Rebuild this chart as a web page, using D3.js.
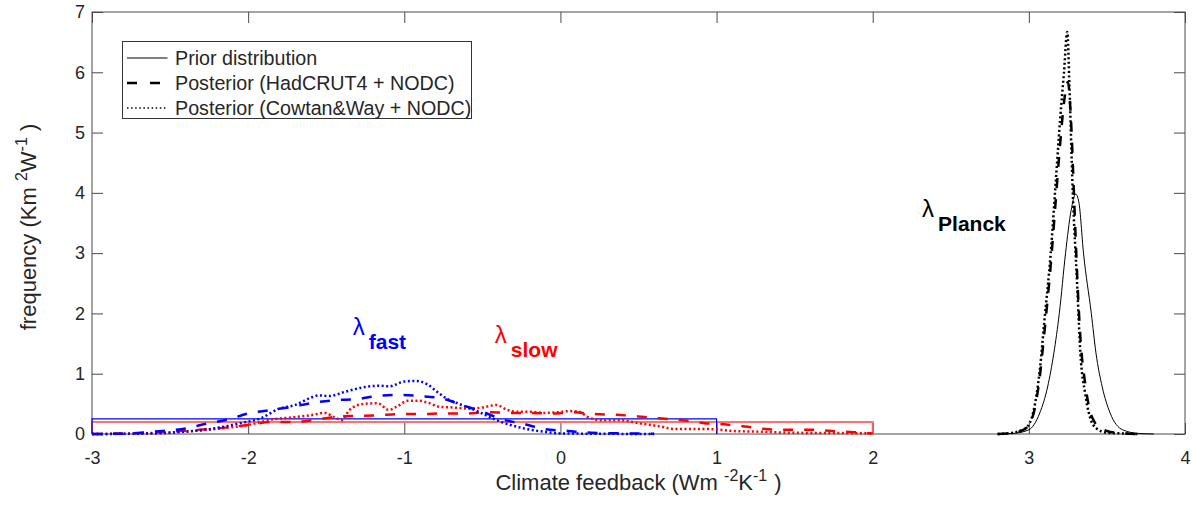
<!DOCTYPE html>
<html>
<head>
<meta charset="utf-8">
<script src="https://cdn.jsdelivr.net/npm/d3@7"></script>
<style>
  body { margin: 0; background: #fff; }
  svg { display: block; font-family: "Liberation Sans", Arial, Helvetica, sans-serif; }
</style>
</head>
<body>
<script>
// tick values
const xTicks = [-3, -2, -1, 0, 1, 2, 3, 4];
const yTicks = [0, 1, 2, 3, 4, 5, 6, 7];

// priors (uniform boxes) for fast and slow feedbacks, [x, y]
const fastPrior = [[-3, 0], [-3, 0.25], [1, 0.25], [1, 0]];
const slowPrior = [[-3, 0], [-3, 0.2], [2, 0.2], [2, 0]];

// lambda fast posteriors
const fastHad = [[-3, 0], [-2.8, 0.005], [-2.6, 0.04], [-2.5, 0.06], [-2.4, 0.09], [-2.27, 0.17],
  [-2.13, 0.24], [-2.0, 0.34], [-1.85, 0.4], [-1.72, 0.45], [-1.6, 0.51], [-1.45, 0.56],
  [-1.3, 0.58], [-1.18, 0.63], [-1.04, 0.65], [-0.9, 0.63], [-0.76, 0.59], [-0.63, 0.48],
  [-0.5, 0.37], [-0.37, 0.24], [-0.24, 0.17], [-0.1, 0.08], [0.05, 0.05], [0.2, 0.02],
  [0.4, 0.01], [0.6, 0.005]];
const fastCW = [[-3, 0], [-2.6, 0.01], [-2.4, 0.04], [-2.2, 0.1], [-2.05, 0.18], [-1.92, 0.26],
  [-1.8, 0.42], [-1.7, 0.48], [-1.6, 0.6], [-1.55, 0.64], [-1.48, 0.63], [-1.38, 0.7],
  [-1.25, 0.78], [-1.16, 0.8], [-1.1, 0.79], [-1.0, 0.87], [-0.93, 0.88], [-0.85, 0.82],
  [-0.79, 0.7], [-0.73, 0.59], [-0.66, 0.51], [-0.58, 0.43], [-0.5, 0.34], [-0.41, 0.23],
  [-0.32, 0.15], [-0.21, 0.08], [-0.11, 0.04], [0, 0.01], [0.2, 0.005], [0.6, 0]];

// lambda slow posteriors
const slowHad = [[-3, 0], [-2.75, 0.01], [-2.55, 0.03], [-2.4, 0.055], [-2.27, 0.08], [-2.13, 0.11],
  [-2.0, 0.15], [-1.85, 0.2], [-1.7, 0.2], [-1.56, 0.24], [-1.42, 0.29], [-1.3, 0.3],
  [-1.17, 0.31], [-1.03, 0.33], [-0.88, 0.33], [-0.76, 0.34], [-0.6, 0.34], [-0.48, 0.36],
  [-0.3, 0.35], [-0.2, 0.35], [-0.05, 0.34], [0.07, 0.36], [0.22, 0.33], [0.36, 0.32],
  [0.5, 0.29], [0.63, 0.26], [0.78, 0.23], [0.92, 0.18], [1.05, 0.16], [1.2, 0.12],
  [1.33, 0.08], [1.47, 0.07], [1.61, 0.07], [1.74, 0.05], [1.88, 0.03], [2.0, 0.01]];
const slowCW = [[-3, 0], [-2.7, 0.01], [-2.4, 0.04], [-2.15, 0.1], [-2.0, 0.15], [-1.85, 0.24],
  [-1.7, 0.28], [-1.6, 0.31], [-1.51, 0.35], [-1.45, 0.28], [-1.4, 0.23], [-1.35, 0.4],
  [-1.26, 0.5], [-1.17, 0.51], [-1.1, 0.4], [-1.05, 0.45], [-0.98, 0.55], [-0.9, 0.55],
  [-0.85, 0.52], [-0.77, 0.45], [-0.69, 0.44], [-0.58, 0.42], [-0.5, 0.44], [-0.41, 0.48],
  [-0.34, 0.4], [-0.28, 0.37], [-0.19, 0.37], [-0.11, 0.35], [-0.02, 0.36], [0.06, 0.38],
  [0.12, 0.37], [0.17, 0.29], [0.25, 0.23], [0.38, 0.23], [0.5, 0.18], [0.65, 0.12],
  [0.72, 0.085], [0.98, 0.08], [1.1, 0.05], [1.25, 0.04], [1.5, 0.02], [1.8, 0.015], [2.0, 0.01]];

// lambda Planck prior and posteriors
const planckPrior = [[2.8, 0], [2.9, 0.01], [3.0, 0.07], [3.07, 0.35], [3.12, 0.78], [3.16, 1.34],
  [3.195, 2.0], [3.235, 3.0], [3.27, 3.7], [3.3, 3.98], [3.32, 3.85], [3.35, 3.0], [3.4, 2.0],
  [3.43, 1.34], [3.47, 0.78], [3.52, 0.35], [3.6, 0.07], [3.7, 0.01], [3.8, 0]];
const planckHad = [[2.8, 0], [2.9, 0.02], [2.95, 0.05], [3.0, 0.15], [3.04, 0.45], [3.07, 0.95],
  [3.1, 1.7], [3.14, 2.8], [3.17, 3.8], [3.2, 4.8], [3.23, 5.6], [3.25, 5.84], [3.27, 5.2],
  [3.29, 3.9], [3.31, 2.6], [3.33, 1.6], [3.36, 0.85], [3.39, 0.4], [3.42, 0.2], [3.45, 0.12],
  [3.5, 0.05], [3.6, 0.01], [3.7, 0]];
const planckCW = [[2.8, 0], [2.9, 0.02], [2.95, 0.06], [2.99, 0.12], [3.04, 0.51], [3.07, 1.06],
  [3.1, 1.89], [3.14, 3.0], [3.17, 4.1], [3.2, 5.21], [3.225, 6.0], [3.246, 6.67], [3.26, 5.76],
  [3.28, 4.1], [3.31, 2.44], [3.33, 1.34], [3.36, 0.68], [3.39, 0.29], [3.43, 0.1], [3.5, 0.02],
  [3.6, 0.01], [3.7, 0]];

// annotation anchors in data units
const labels = [
  { sub: 'fast', x: -1.33, y: 1.64, color: '#0000ff' },
  { sub: 'slow', x: -0.42, y: 1.51, color: '#ff0000' },
  { sub: 'Planck', x: 2.316, y: 3.6, color: '#000000' },
];

const legendItems = ['Prior distribution', 'Posterior (HadCRUT4 + NODC)', 'Posterior (Cowtan&Way + NODC)'];

const width = 1192;
const height = 506;
const margin = { top: 12, right: 7, bottom: 72, left: 92 };
const axisColor = '#4a4a4a';
const textColor = '#262626';

const svg = d3.select('body').append('svg')
  .attr('width', width)
  .attr('height', height)
  .attr('viewBox', [0, 0, width, height]);

const x = d3.scaleLinear().domain([-3, 4]).range([margin.left, width - margin.right]);
const y = d3.scaleLinear().domain([0, 7]).range([height - margin.bottom, margin.top]);

// axes with inward ticks on all four sides
const axisGroup = svg.append('g');

function styleAxis(g) {
  g.select('.domain').remove();
  g.selectAll('.tick line').attr('stroke', axisColor);
  g.selectAll('.tick text')
    .attr('fill', textColor)
    .attr('font-size', 18)
    .attr('font-family', '"Liberation Sans", Arial, sans-serif');
}

const plain = d => String(d);

axisGroup.append('g')
  .attr('transform', `translate(0,${y(0)})`)
  .call(d3.axisBottom(x).tickValues(xTicks).tickSize(-11).tickPadding(17).tickFormat(plain))
  .call(styleAxis);
axisGroup.append('g')
  .attr('transform', `translate(${x(-3)},0)`)
  .call(d3.axisLeft(y).tickValues(yTicks).tickSize(-11).tickPadding(7).tickFormat(plain))
  .call(styleAxis);
axisGroup.append('g')
  .attr('transform', `translate(0,${y(7)})`)
  .call(d3.axisTop(x).tickValues(xTicks).tickSize(-11).tickFormat(''))
  .call(styleAxis);
axisGroup.append('g')
  .attr('transform', `translate(${x(4)},0)`)
  .call(d3.axisRight(y).tickValues(yTicks).tickSize(-11).tickFormat(''))
  .call(styleAxis);

axisGroup.append('rect')
  .attr('x', x(-3))
  .attr('y', y(7))
  .attr('width', x(4) - x(-3))
  .attr('height', y(0) - y(7))
  .attr('fill', 'none')
  .attr('stroke', axisColor)
  .attr('stroke-width', 1);

// curves
const smooth = d3.line().x(d => x(d[0])).y(d => y(d[1])).curve(d3.curveMonotoneX);
const straight = d3.line().x(d => x(d[0])).y(d => y(d[1]));

const dataGroup = svg.append('g').attr('fill', 'none');

const DASH = '10 11';
const DOT = '2 2.5';

const series = [
  { d: slowPrior, line: straight, color: '#ff4d4d', w: 2, dash: null, op: 0.8 },
  { d: fastPrior, line: straight, color: '#0000ff', w: 1.2, dash: null, op: 1 },
  { d: slowHad, line: smooth, color: '#ff0000', w: 2.5, dash: DASH, op: 1 },
  { d: slowCW, line: smooth, color: '#ff0000', w: 2.5, dash: DOT, op: 1 },
  { d: fastHad, line: smooth, color: '#0000ff', w: 2.5, dash: DASH, op: 1 },
  { d: fastCW, line: smooth, color: '#0000ff', w: 2.5, dash: DOT, op: 1 },
  { d: planckPrior, line: smooth, color: '#000000', w: 1, dash: null, op: 1 },
  { d: planckHad, line: smooth, color: '#000000', w: 2.5, dash: DASH, op: 1 },
  { d: planckCW, line: smooth, color: '#000000', w: 2.5, dash: DOT, op: 1 },
];

dataGroup.selectAll('path')
  .data(series)
  .join('path')
  .attr('d', s => s.line(s.d))
  .attr('stroke', s => s.color)
  .attr('stroke-width', s => s.w)
  .attr('stroke-opacity', s => s.op)
  .attr('stroke-dasharray', s => s.dash);

// lambda labels
const labelText = svg.append('g').selectAll('text')
  .data(labels)
  .join('text')
  .attr('x', d => x(d.x))
  .attr('y', d => y(d.y))
  .attr('fill', d => d.color);
labelText.append('tspan').attr('font-size', 24).text('λ');
labelText.append('tspan')
  .attr('font-size', 21)
  .attr('font-weight', 'bold')
  .attr('dx', 4)
  .attr('dy', 14)
  .text(d => d.sub);

// axis titles
const xTitle = svg.append('text')
  .attr('x', (x(-3) + x(4)) / 2)
  .attr('y', 490)
  .attr('text-anchor', 'middle')
  .attr('fill', textColor)
  .attr('font-size', 22)
  .style('white-space', 'pre');
xTitle.append('tspan').text('Climate feedback (Wm ');
xTitle.append('tspan').attr('font-size', 16).attr('dy', -9).text('-2');
xTitle.append('tspan').attr('dy', 9).text('K');
xTitle.append('tspan').attr('font-size', 16).attr('dy', -9).text('-1');
xTitle.append('tspan').attr('dy', 9).attr('dx', 7).text(')');

const yTitle = svg.append('text')
  .attr('transform', `translate(36,${(y(0) + y(7)) / 2 + 4}) rotate(-90)`)
  .attr('text-anchor', 'middle')
  .attr('fill', textColor)
  .attr('font-size', 22)
  .style('white-space', 'pre');
yTitle.append('tspan').text('frequency (Km ');
yTitle.append('tspan').attr('font-size', 16).attr('dy', -9).text('2');
yTitle.append('tspan').attr('dy', 9).text('W');
yTitle.append('tspan').attr('font-size', 16).attr('dy', -9).text('-1');
yTitle.append('tspan').attr('dy', 9).text(' )');

// legend
const legend = svg.append('g').attr('transform', 'translate(122.5,41.5)');
legend.append('rect')
  .attr('width', 349)
  .attr('height', 77)
  .attr('fill', '#fff')
  .attr('stroke', '#333')
  .attr('stroke-width', 1);

const legendStyles = [
  { w: 1, dash: null, x2: 45 },
  { w: 2.5, dash: '10 13', x2: 38 },
  { w: 1.5, dash: '1.5 2.6', x2: 45 },
];

const rows = legend.selectAll('g.row')
  .data(legendItems)
  .join('g')
  .attr('class', 'row')
  .attr('transform', (d, i) => `translate(0,${16.5 + i * 25})`);
rows.append('line')
  .attr('x1', 4.5)
  .attr('x2', (d, i) => legendStyles[i].x2)
  .attr('stroke', '#000')
  .attr('stroke-width', (d, i) => legendStyles[i].w)
  .attr('stroke-dasharray', (d, i) => legendStyles[i].dash);
rows.append('text')
  .attr('x', 52.5)
  .attr('dy', '0.35em')
  .attr('font-size', 19.7)
  .attr('fill', textColor)
  .text(d => d);
</script>
</body>
</html>
